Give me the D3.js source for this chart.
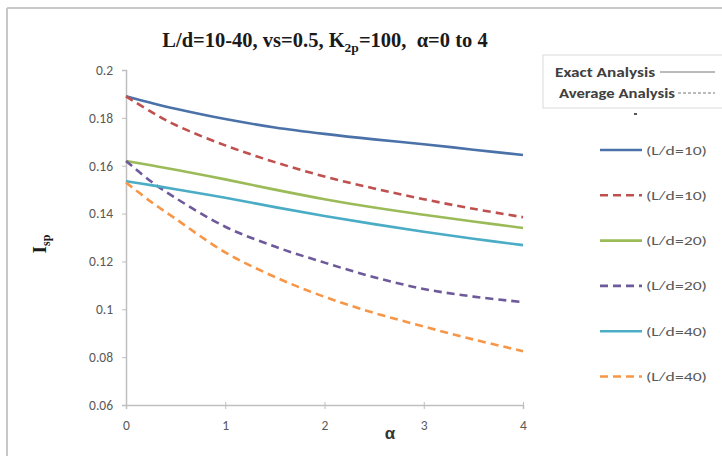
<!DOCTYPE html>
<html>
<head>
<meta charset="utf-8">
<script src="https://cdn.jsdelivr.net/npm/d3@7"></script>
<style>
body{margin:0;background:#fff;}
svg{display:block;}
</style>
</head>
<body>
<svg id="chart" width="722" height="456"></svg>
<script>
// alpha values read along the x axis
var alpha = [0, 0.25, 0.5, 1, 1.5, 2, 2.5, 3, 3.5, 4];

var exact10 = [0.189, 0.1863, 0.1838, 0.1795, 0.176, 0.1733, 0.171, 0.169, 0.1667, 0.1645];
var avg10   = [0.189, 0.1826, 0.177, 0.1685, 0.1615, 0.1555, 0.1505, 0.146, 0.142, 0.1385];
var exact20 = [0.162, 0.1602, 0.1583, 0.1543, 0.15, 0.146, 0.1425, 0.1395, 0.1367, 0.134];
var avg20   = [0.162, 0.1535, 0.1465, 0.1345, 0.1262, 0.1195, 0.1134, 0.1085, 0.1053, 0.103];
var exact40 = [0.1535, 0.1519, 0.1502, 0.1466, 0.1427, 0.139, 0.1356, 0.1324, 0.1295, 0.1268];
var avg40   = [0.153, 0.145, 0.1378, 0.1238, 0.1135, 0.1052, 0.0985, 0.0928, 0.0874, 0.0825];

var series_names = ["(L/d=10)", "(L/d=10)", "(L/d=20)", "(L/d=20)", "(L/d=40)", "(L/d=40)"];
var series_values = [exact10, avg10, exact20, avg20, exact40, avg40];
var series_colors = ["#4A72A8", "#C0504D", "#9BBB59", "#6E5A9A", "#4BACC6", "#F79646"];
var series_dashed = [false, true, false, true, false, true];

var y_ticks = [0.06, 0.08, 0.1, 0.12, 0.14, 0.16, 0.18, 0.2];
var x_ticks = [0, 1, 2, 3, 4];

var svg = d3.select("#chart");
var label_font = "Carlito,Calibri,'Liberation Sans',sans-serif";
var serif_font = "'Liberation Serif','Times New Roman',serif";

// outer chart frame (only top and left edges show in the crop)
svg.append("line").attr("x1", 7).attr("y1", 8).attr("x2", 722).attr("y2", 8)
	.attr("stroke", "#c8c8c8").attr("stroke-width", 2);
svg.append("line").attr("x1", 7).attr("y1", 8).attr("x2", 7).attr("y2", 456)
	.attr("stroke", "#c8c8c8").attr("stroke-width", 2);

var x = d3.scaleLinear().domain([0, 4]).range([126, 523]);
var y = d3.scaleLinear().domain([0.06, 0.2]).range([405, 70]);

var yAxis = d3.axisLeft(y).tickValues(y_ticks).tickSize(4).tickPadding(9)
	.tickFormat(function(d){ return String(+d.toFixed(2)); });
var gy = svg.append("g").attr("transform", "translate(126,0)").call(yAxis);
gy.select(".domain").attr("stroke", "#bfbfbf").attr("stroke-width", 1.5);
gy.selectAll(".tick line").attr("stroke", "#bfbfbf");

var xAxis = d3.axisBottom(x).tickValues(x_ticks).tickSize(4).tickPadding(11)
	.tickFormat(d3.format("d"));
var gx = svg.append("g").attr("transform", "translate(0,405)").call(xAxis);
gx.select(".domain").attr("stroke", "#bfbfbf").attr("stroke-width", 1.5);
gx.selectAll(".tick line").attr("stroke", "#bfbfbf").attr("y1", -3);

[gx, gy].forEach(function(g){
	g.attr("font-family", label_font).attr("font-size", 13.5);
	g.selectAll(".tick text").attr("fill", "#595959");
});

var line = d3.line()
	.x(function(d){ return x(d[0]); })
	.y(function(d){ return y(d[1]); })
	.curve(d3.curveCatmullRom.alpha(0.5));

series_values.forEach(function(vals, i){
	var pts = alpha.map(function(a, k){ return [a, vals[k]]; });
	svg.append("path")
		.attr("d", line(pts))
		.attr("fill", "none")
		.attr("stroke", series_colors[i])
		.attr("stroke-width", 2.6)
		.attr("stroke-dasharray", series_dashed[i] ? "8,5" : null);
});

// title
var title = svg.append("text").attr("x", 325).attr("y", 47).attr("text-anchor", "middle")
	.attr("font-family", serif_font)
	.attr("font-weight", "bold").attr("font-size", 20.5).attr("fill", "#1a1a1a")
	.attr("xml:space", "preserve");
title.append("tspan").text("L/d=10-40, vs=0.5, K");
title.append("tspan").attr("font-size", 13.5).attr("dy", 5).text("2p");
title.append("tspan").attr("dy", -5).text("=100,  \u03b1=0 to 4");

// axis titles
var ylab = svg.append("text").attr("transform", "translate(46,244) rotate(-90)")
	.attr("text-anchor", "middle")
	.attr("font-family", serif_font)
	.attr("font-weight", "bold").attr("font-size", 19).attr("fill", "#1a1a1a");
ylab.append("tspan").text("I");
ylab.append("tspan").attr("font-size", 12).attr("dy", 4).text("sp");

svg.append("text").attr("x", 390).attr("y", 439).attr("text-anchor", "middle")
	.attr("font-family", "'Liberation Sans',Arial,sans-serif")
	.attr("font-weight", "bold").attr("font-size", 17).attr("fill", "#333")
	.text("\u03b1");

// top legend box
svg.append("rect").attr("x", 543).attr("y", 55).attr("width", 180).attr("height", 53)
	.attr("fill", "#fff").attr("stroke", "#d9d9d9");
svg.append("text").attr("x", 555).attr("y", 77)
	.attr("font-family", label_font)
	.attr("font-weight", "bold").attr("font-size", 14).attr("fill", "#404040")
	.attr("textLength", 100).attr("lengthAdjust", "spacingAndGlyphs")
	.text("Exact Analysis");
svg.append("line").attr("x1", 660).attr("x2", 715).attr("y1", 72).attr("y2", 72)
	.attr("stroke", "#777").attr("stroke-width", 1);
svg.append("text").attr("x", 559).attr("y", 98)
	.attr("font-family", label_font)
	.attr("font-weight", "bold").attr("font-size", 14).attr("fill", "#404040")
	.attr("textLength", 116).attr("lengthAdjust", "spacingAndGlyphs")
	.text("Average Analysis");
svg.append("line").attr("x1", 678).attr("x2", 715).attr("y1", 93).attr("y2", 93)
	.attr("stroke", "#777").attr("stroke-width", 1).attr("stroke-dasharray", "3,2");
svg.append("rect").attr("x", 634).attr("y", 113).attr("width", 3).attr("height", 2).attr("fill", "#555");

// series legend
var legend = svg.append("g").selectAll("g").data(series_names).enter().append("g")
	.attr("transform", function(d, i){ return "translate(0," + (150 + i * 45.3) + ")"; });
legend.append("line")
	.attr("x1", 600).attr("x2", 642).attr("y1", 0).attr("y2", 0)
	.attr("stroke", function(d, i){ return series_colors[i]; })
	.attr("stroke-width", 2.6)
	.attr("stroke-dasharray", function(d, i){ return series_dashed[i] ? "8,5" : null; });
legend.append("text")
	.attr("x", 646).attr("y", 4.5)
	.attr("font-family", label_font)
	.attr("font-size", 12.5).attr("fill", "#595959")
	.attr("textLength", 61).attr("lengthAdjust", "spacingAndGlyphs")
	.text(function(d){ return d; });
</script>
</body>
</html>
